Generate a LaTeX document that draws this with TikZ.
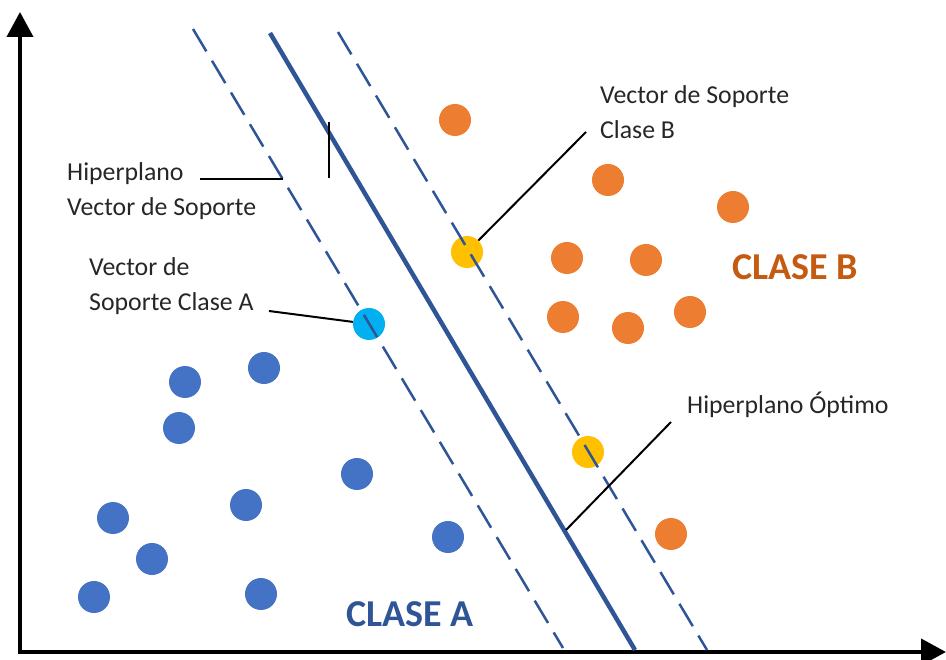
\documentclass[tikz,border=0pt]{standalone}
\usepackage{fontspec}
\setmainfont{Carlito}
\usepackage{tikz}
\usetikzlibrary{arrows.meta,calc,positioning}
\definecolor{dotblue}{HTML}{4472C4}
\definecolor{dotorange}{HTML}{ED7D31}
\definecolor{svyellow}{HTML}{FFC000}
\definecolor{svcyan}{HTML}{00B0F0}
\definecolor{planeblue}{HTML}{2F5597}
\definecolor{claseb}{HTML}{C55A11}
\definecolor{labelgray}{HTML}{262626}
\tikzset{
    dot/.style={circle, inner sep=0pt, minimum size=32pt},
    dota/.style={dot, fill=dotblue},
    dotb/.style={dot, fill=dotorange},
    axis/.style={line width=4pt, {Triangle[length=25pt,width=26pt]}-{Triangle[length=25pt,width=26pt]}},
    hyper/.style={planeblue, line width=4.5pt},
    margin/.style={planeblue, line width=2.5pt, dash pattern=on 26pt off 11pt},
    leader/.style={black, line width=2pt},
    lbl/.style={text=labelgray, align=left, inner sep=0pt, font=\fontsize{25.8}{35}\selectfont},
    clase/.style={inner sep=0pt, font=\fontsize{38}{44}\selectfont\bfseries}
}

\begin{document}
\begin{tikzpicture}[x=1pt,y=-1pt]
            \useasboundingbox (0,0) rectangle (946,660);
            \coordinate (o) at (20,652);
            \coordinate (ytop) at (20,12);
            \coordinate (xend) at (946,652);
            \draw[axis] (ytop) -- (o) -- (xend);

            \foreach \x/\y [count=\i] in {185/382, 264/368, 179/428, 357/474, 113/518, 246/505, 152/559, 94/597, 261/594, 448/537}
                \node[dota] (a\i) at (\x,\y) {};
            \foreach \x/\y [count=\i] in {455/120, 608/180, 733/207, 567/258, 646/260, 563/317, 628/328, 690/312, 671/534}
                \node[dotb] (b\i) at (\x,\y) {};

            \node[dot, fill=svcyan] (svA) at (369,324) {};
            \node[dot, fill=svyellow] (svB) at (467,252) {};
            \node[dot, fill=svyellow] (svBb) at (588,452) {};

            \coordinate (h1) at (270,33);
            \coordinate (h2) at (635,650);
            \coordinate (ma1) at (193,29);
            \coordinate (ma2) at (563,648);
            \coordinate (mb1) at (338,32);
            \coordinate (mb2) at (707,650);
            \draw[margin] (ma1) -- (ma2);
            \draw[margin] (mb1) -- (mb2);
            \draw[hyper] (h1) -- (h2);

            \draw[black, line width=1.5pt] (329,122) -- (329,178);

            \node[lbl, anchor=west] (lhvs) at (67,191) {Hiperplano\\Vector de Soporte};
            \node[lbl, anchor=west] (lsvA) at (89,286) {Vector de\\Soporte Clase A};
            \node[lbl, anchor=west] (lsvB) at (600,112) {Vector de Soporte\\Clase B};
            \node[lbl, anchor=west] (lopt) at (687,405) {Hiperplano Óptimo};

            \node[clase, text=claseb] (cb) at (795,267) {CLASE B};
            \node[clase, text=planeblue] (ca) at (410,614) {CLASE A};

            \coordinate (lhvsA) at (200,179);
            \coordinate (lhvsB) at (283,179);
            \draw[leader] (lhvsA) -- (lhvsB);
            \coordinate (lsvAa) at (269,311);
            \draw[leader] (lsvAa) -- (svA);
            \coordinate (lsvBa) at (586,132);
            \draw[leader] (lsvBa) -- (svB);
            \coordinate (lopta) at (671,422);
            \coordinate (loptb) at (566,530);
            \draw[leader] (lopta) -- (loptb);
        \end{tikzpicture}
\end{document}
